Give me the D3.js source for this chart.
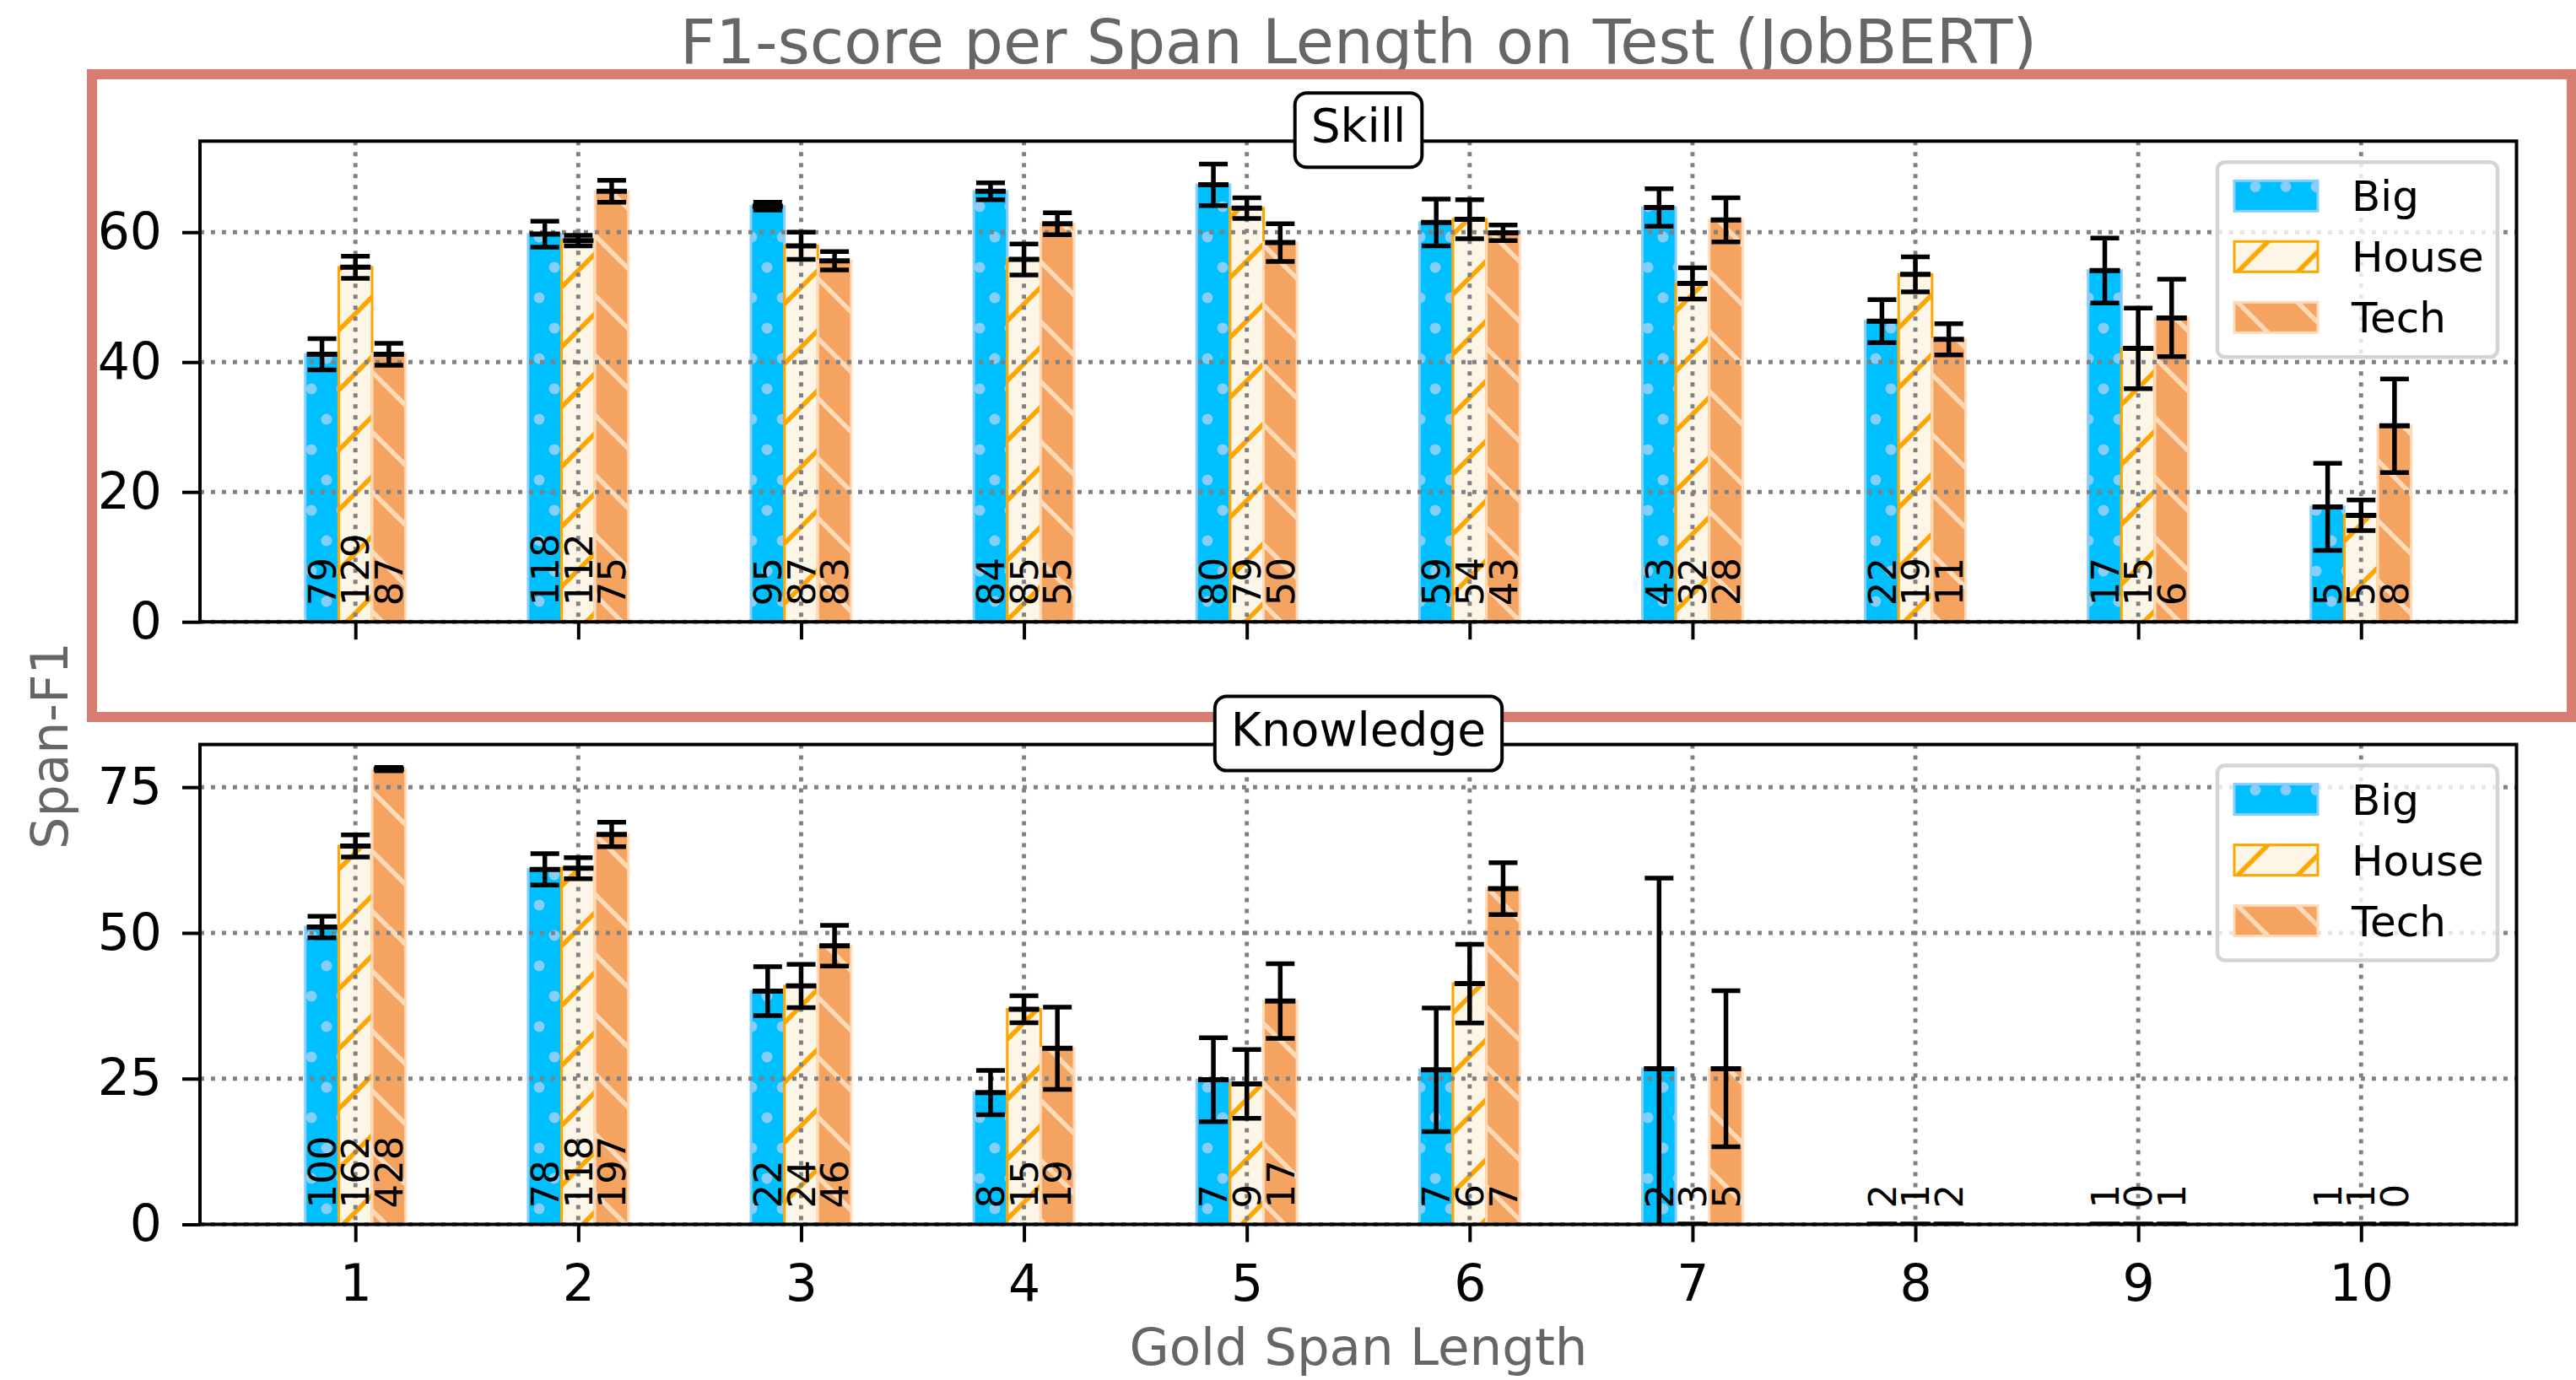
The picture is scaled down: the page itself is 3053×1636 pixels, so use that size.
<!DOCTYPE html>
<html>
<head>
<meta charset="utf-8">
<script src="https://cdn.jsdelivr.net/npm/d3@7"></script>
<style>
  html, body { margin: 0; padding: 0; background: #fff; }
  svg { display: block; font-family: "DejaVu Sans", sans-serif; }
</style>
</head>
<body>
<script>
const spanLengths = [1, 2, 3, 4, 5, 6, 7, 8, 9, 10];
const systems = ["Big", "House", "Tech"];

// Skill panel
const skillBig = [41.2, 59.7, 64.0, 66.3, 67.3, 61.5, 63.8, 46.3, 54.1, 17.7];
const skillBigErr = [2.4, 2.0, 0.6, 1.3, 3.2, 3.6, 2.9, 3.3, 5.0, 6.7];
const skillHouse = [54.6, 58.7, 57.9, 55.8, 63.7, 62.0, 52.1, 53.5, 42.1, 16.4];
const skillHouseErr = [1.7, 0.8, 2.1, 2.4, 1.6, 3.0, 2.4, 2.7, 6.2, 2.35];
const skillTech = [41.2, 66.3, 55.6, 61.3, 58.4, 59.9, 61.9, 43.5, 46.8, 30.2];
const skillTechErr = [1.7, 1.7, 1.4, 1.7, 2.9, 1.2, 3.4, 2.4, 5.95, 7.2];
const skillBigN = [79, 118, 95, 84, 80, 59, 43, 22, 17, 5];
const skillHouseN = [129, 112, 87, 85, 79, 54, 32, 19, 15, 5];
const skillTechN = [87, 75, 83, 55, 50, 43, 28, 11, 6, 8];

// Knowledge panel
const knowBig = [51.0, 60.9, 40.0, 22.6, 24.8, 26.5, 26.7, 0, 0, 0];
const knowBigErr = [1.85, 2.7, 4.2, 3.8, 7.2, 10.6, 32.7, 0, 0, 0];
const knowHouse = [64.9, 61.1, 40.9, 36.9, 24.1, 41.3, 0, 0, 0, 0];
const knowHouseErr = [1.9, 1.8, 3.7, 2.3, 5.9, 6.75, 0, 0, 0, 0];
const knowTech = [78.1, 66.9, 47.8, 30.2, 38.3, 57.6, 26.7, 0, 0, 0];
const knowTechErr = [0.3, 2.1, 3.5, 7.05, 6.4, 4.45, 13.4, 0, 0, 0];
const knowBigN = [100, 78, 22, 8, 7, 7, 2, 2, 1, 1];
const knowHouseN = [162, 118, 24, 15, 9, 6, 3, 1, 0, 1];
const knowTechN = [428, 197, 46, 19, 17, 7, 5, 2, 1, 0];

const skillTicks = [0, 20, 40, 60];
const knowTicks = [0, 25, 50, 75];

const width = 3053, height = 1636;
const barW = 0.15;
const offsets = [-barW, 0, barW];
const font = "DejaVu Sans";

const svg = d3.select("body").append("svg")
  .attr("width", width)
  .attr("height", height);

// hatch patterns (matplotlib style)
const defs = svg.append("defs");
const dots = defs.append("pattern").attr("id", "hatch-big")
  .attr("patternUnits", "userSpaceOnUse")
  .attr("x", 9).attr("y", 29).attr("width", 36).attr("height", 72);
dots.append("rect").attr("width", 36).attr("height", 72).attr("fill", "#00bfff");
[[0, 0], [36, 0], [0, 72], [36, 72], [18, 36]].forEach(p => {
  dots.append("circle").attr("cx", p[0]).attr("cy", p[1]).attr("r", 6.5).attr("fill", "#87cefa");
});
const slash = defs.append("pattern").attr("id", "hatch-house")
  .attr("patternUnits", "userSpaceOnUse")
  .attr("x", 0).attr("y", 12).attr("width", 71).attr("height", 71);
slash.append("rect").attr("width", 71).attr("height", 71).attr("fill", "#fdf5e6");
slash.append("path").attr("d", "M-10,81 L81,-10 M-10,10 L10,-10 M61,81 L81,61")
  .attr("stroke", "#ffa500").attr("stroke-width", 5.5);
const back = defs.append("pattern").attr("id", "hatch-tech")
  .attr("patternUnits", "userSpaceOnUse")
  .attr("x", 0).attr("y", 0).attr("width", 71).attr("height", 71);
back.append("rect").attr("width", 71).attr("height", 71).attr("fill", "#f4a460");
back.append("path").attr("d", "M-10,-10 L81,81 M-10,61 L10,81 M61,-10 L81,10")
  .attr("stroke", "#ffdab9").attr("stroke-width", 5.5);

const fills = ["url(#hatch-big)", "url(#hatch-house)", "url(#hatch-tech)"];
const edges = ["#87cefa", "#ffa500", "#ffdab9"];

const x = d3.scaleLinear()
  .domain([1 - barW * 1.5 - 0.4725, 10 + barW * 1.5 + 0.4725])
  .range([237, 2982.5]);

// title
svg.append("text")
  .attr("x", 1610).attr("y", 75)
  .attr("text-anchor", "middle")
  .attr("font-size", 73.5).attr("fill", "#666666")
  .text("F1-score per Span Length on Test (JobBERT)");

// highlight frame round the top panel
svg.append("rect")
  .attr("x", 109).attr("y", 88)
  .attr("width", 3048 - 109).attr("height", 850 - 88)
  .attr("fill", "none").attr("stroke", "#d77d72").attr("stroke-width", 12);

function panel(id, name, top, bottom, vals, errs, counts, ticks, showXLabels) {
  const upper = d3.max(vals.flatMap((v, s) => v.map((d, i) => d + errs[s][i])));
  const y = d3.scaleLinear().domain([0, upper * 1.05]).range([bottom, top]);
  const g = svg.append("g");

  g.append("clipPath").attr("id", "clip-" + id)
    .append("rect").attr("x", x.range()[0]).attr("y", top)
    .attr("width", x.range()[1] - x.range()[0]).attr("height", bottom - top);

  // bars
  systems.forEach((sys, s) => {
    g.append("g")
      .selectAll("rect")
      .data(vals[s])
      .join("rect")
        .attr("x", (d, i) => x(spanLengths[i] + offsets[s] - barW / 2))
        .attr("y", d => y(d))
        .attr("width", x(barW) - x(0))
        .attr("height", d => y(0) - y(d))
        .attr("fill", fills[s])
        .attr("stroke", edges[s])
        .attr("stroke-width", 3);
  });

  // grid
  const grid = g.append("g")
    .attr("stroke", "#808080").attr("stroke-width", 4.9)
    .attr("stroke-dasharray", "4.9 8.1");
  grid.selectAll(".gx").data(spanLengths).join("line")
    .attr("x1", d => x(d)).attr("x2", d => x(d))
    .attr("y1", top).attr("y2", bottom);
  grid.selectAll(".gy").data(ticks).join("line")
    .attr("x1", x.range()[0]).attr("x2", x.range()[1])
    .attr("y1", d => y(d)).attr("y2", d => y(d));

  // error bars
  const eb = g.append("g").attr("stroke", "black").attr("clip-path", `url(#clip-${id})`);
  systems.forEach((sys, s) => {
    vals[s].forEach((v, i) => {
      const cx = x(spanLengths[i] + offsets[s]);
      const e = errs[s][i];
      eb.append("line").attr("x1", cx).attr("x2", cx)
        .attr("y1", y(v - e)).attr("y2", y(v + e)).attr("stroke-width", 5.5);
      [v - e, v + e].forEach(c => {
        eb.append("line").attr("x1", cx - 17).attr("x2", cx + 17)
          .attr("y1", y(c)).attr("y2", y(c)).attr("stroke-width", 5.5);
      });
      eb.append("line").attr("x1", cx - 18).attr("x2", cx + 18)
        .attr("y1", y(v)).attr("y2", y(v)).attr("stroke-width", 6);
    });
  });

  // counts written in the bars
  systems.forEach((sys, s) => {
    g.append("g")
      .selectAll("text")
      .data(counts[s])
      .join("text")
        .attr("transform", (d, i) => `translate(${x(spanLengths[i] + offsets[s])},${y(0) - 19}) rotate(-90)`)
        .attr("dy", "0.36em")
        .attr("font-size", 45)
        .attr("fill", "black")
        .text(d => d);
  });

  // axes
  const yAxis = g.append("g")
    .attr("transform", `translate(${x.range()[0]},0)`)
    .call(d3.axisLeft(y).tickValues(ticks).tickSize(21).tickPadding(24));
  const xAxis = g.append("g")
    .attr("transform", `translate(0,${bottom})`)
    .call(d3.axisBottom(x).tickValues(spanLengths).tickSize(21).tickPadding(27)
      .tickFormat(showXLabels ? d => d : () => ""));
  [yAxis, xAxis].forEach(a => {
    a.select(".domain").remove();
    a.selectAll(".tick line").attr("stroke", "black").attr("stroke-width", 4);
    a.selectAll(".tick text").attr("font-size", 60).attr("font-family", font).attr("fill", "black");
  });

  g.append("rect")
    .attr("x", x.range()[0]).attr("y", top)
    .attr("width", x.range()[1] - x.range()[0]).attr("height", bottom - top)
    .attr("fill", "none").attr("stroke", "black").attr("stroke-width", 4);

  // panel name box
  const lbl = g.append("g");
  const box = lbl.append("rect");
  const txt = lbl.append("text")
    .attr("x", 1610).attr("y", top + 1)
    .attr("text-anchor", "middle").attr("font-size", 55).attr("fill", "black")
    .text(name);
  const tw = txt.node().getComputedTextLength();
  box.attr("x", 1610 - tw / 2 - 19).attr("y", top - 57)
    .attr("width", tw + 38).attr("height", 88)
    .attr("rx", 14).attr("fill", "white").attr("stroke", "black").attr("stroke-width", 4);

  // legend
  const leg = g.append("g").attr("transform", `translate(2628,${top + 25})`);
  leg.append("rect").attr("width", 332).attr("height", 231).attr("rx", 9)
    .attr("fill", "white").attr("fill-opacity", 0.8)
    .attr("stroke", "#d4d4d4").attr("stroke-width", 4.5);
  systems.forEach((sys, s) => {
    leg.append("rect")
      .attr("x", 20).attr("y", 22 + s * 72)
      .attr("width", 99).attr("height", 36)
      .attr("fill", fills[s]).attr("stroke", edges[s]).attr("stroke-width", 3);
    leg.append("text")
      .attr("x", 159).attr("y", 40 + s * 72 + 18)
      .attr("font-size", 50).attr("fill", "black")
      .text(sys);
  });
}

panel("skill", "Skill", 167.3, 737.2,
  [skillBig, skillHouse, skillTech],
  [skillBigErr, skillHouseErr, skillTechErr],
  [skillBigN, skillHouseN, skillTechN], skillTicks, false);

panel("know", "Knowledge", 882.6, 1451.5,
  [knowBig, knowHouse, knowTech],
  [knowBigErr, knowHouseErr, knowTechErr],
  [knowBigN, knowHouseN, knowTechN], knowTicks, true);

// axis titles
svg.append("text")
  .attr("x", 1610).attr("y", 1618)
  .attr("text-anchor", "middle")
  .attr("font-size", 61).attr("fill", "#666666")
  .text("Gold Span Length");

svg.append("text")
  .attr("transform", "translate(80,884) rotate(-90)")
  .attr("text-anchor", "middle")
  .attr("font-size", 60).attr("fill", "#666666")
  .text("Span-F1");
</script>
</body>
</html>
